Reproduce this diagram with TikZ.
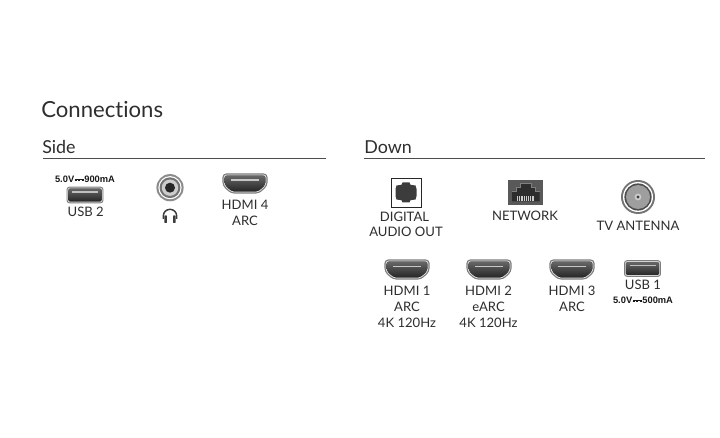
\documentclass[tikz,border=0pt]{standalone}
\usepackage{fontspec}
\setmainfont{Lato}[Ligatures=NoCommon]
\newfontfamily\smallfont{Liberation Sans}
\definecolor{ink}{HTML}{2E2E2E}
\definecolor{port}{HTML}{3C3C3C}
\definecolor{rimc}{HTML}{7E7E7E}
% the direct-current sign: a solid bar over a dashed bar
\newcommand{\dcsign}{\kern0.3pt\raisebox{1.1pt}{\vbox{\hrule width 7pt height 0.45pt\kern0.6pt\hbox{\vrule width 1.7pt height 0.45pt\kern0.95pt\vrule width 1.7pt height 0.45pt\kern0.95pt\vrule width 1.7pt height 0.45pt}}}\kern0.3pt}
\tikzset{
  x=0.75pt,y=-0.75pt,
  lab/.style={text=ink,font=\fontsize{9.8}{10}\selectfont,inner sep=0pt,anchor=center},
  big/.style={text=ink,font=\fontsize{16.6}{16}\selectfont,inner sep=0pt,anchor=west},
  head/.style={text=ink,font=\fontsize{13.4}{13}\selectfont,inner sep=0pt,anchor=west},
  tiny/.style={text=black!90,font=\smallfont\bfseries\fontsize{7}{6}\selectfont,inner sep=0pt,anchor=center},
  rule/.style={draw=black!70,line width=0.65pt},
  pics/hdmi/.style={code={
    \draw[draw=rimc,fill=white!88!black,line width=0.8pt,rounded corners=2.4pt] (-22,-9.5) -- (22,-9.5) -- (22,2) -- (14,9.5) -- (-14,9.5) -- (-22,2) -- cycle;
    \fill[top color=black!60,bottom color=black!85,rounded corners=1.5pt] (-20.3,-7.8) -- (20.3,-7.8) -- (20.3,1.3) -- (13.2,7.8) -- (-13.2,7.8) -- (-20.3,1.3) -- cycle;
    \fill[white!78!black] (-14,-4) rectangle (14,-2.6);
  }},
  pics/usb/.style={code={
    \draw[draw=rimc,fill=white!88!black,line width=0.7pt,rounded corners=1.8pt] (-18,-7.8) rectangle (18,7.8);
    \fill[top color=black!60,bottom color=black!85,rounded corners=1pt] (-16.6,-6.4) rectangle (16.6,6.4);
    \fill[white!75!black] (-13,-3.8) rectangle (13,-2.4);
  }}
}
\begin{document}
\begin{tikzpicture}
\useasboundingbox (0,0) rectangle (720,438);
\fill[white] (0,0) rectangle (720,438);

\node[big] (title) at (41,110) {Connections};
\node[head] (side) at (42,147) {Side};
\node[head] (down) at (364,147) {Down};
\draw[rule] (43,158) -- (326,158);
\draw[rule] (363.5,158) -- (705,158);

% Side
\node[tiny] (v2) at (85,179) {5.0V\dcsign 900mA};
\pic at (85,195) {usb};
\node[lab] (usb2) at (85.7,212) {USB 2};
% audio jack
\fill[white!55!black] (170,187.7) circle (13.6);
\fill[white] (170,187.7) circle (11.6);
\fill[white!45!black] (170,187.7) circle (10.4);
\fill[white!80!black] (170,187.7) circle (8.2);
\fill[black!85] (170,187.7) circle (5);
% headphones
\draw[port,line width=1.1pt] (163.3,219) -- (163.3,216) arc[start angle=180,end angle=360,x radius=6.7,y radius=6.7] -- (176.7,219);
\fill[port,rounded corners=0.4pt] (164.4,215.5) rectangle (166.9,223);
\fill[port,rounded corners=0.4pt] (173.1,215.5) rectangle (175.6,223);
\pic at (245,183.5) {hdmi};
\node[lab] (h4a) at (245,205) {HDMI 4};
\node[lab] (h4b) at (245,221) {ARC};

% Down row 1
\draw[black!85,fill=white,line width=0.7pt] (391,178) rectangle (421,207);
\fill[port] (402.5,182.5) -- (409.5,182.5) -- (410.5,184.8) -- (415.5,185.5) -- (416.5,189) -- (416.5,196) -- (415.5,199.5) -- (410.5,200.2) -- (409.5,202.5) -- (402.5,202.5) -- (401.5,200.2) -- (396.5,199.5) -- (395.5,196) -- (395.5,189) -- (396.5,185.5) -- (401.5,184.8) -- cycle;
\node[lab] (d1) at (404.5,216.7) {DIGITAL};
\node[lab] (d2) at (406,232) {AUDIO OUT};

\fill[black!65] (508,180) rectangle (543,205);
\fill[port!75!black] (512,201.5) -- (512,191) -- (516,191) -- (516,187) -- (520,187) -- (520,183.5) -- (531,183.5) -- (531,187) -- (535,187) -- (535,191) -- (539.5,191) -- (539.5,201.5) -- cycle;
\draw[white!50!black,line width=0.4pt] (512,191) -- (516,191) -- (516,187) -- (520,187) -- (520,183.5) -- (531,183.5) -- (531,187) -- (535,187) -- (535,191) -- (539.5,191);
\foreach \i in {0,...,7}{\fill[white!80!black] (517+\i*2.2,196.5) rectangle (518.2+\i*2.2,201);}
\node[lab] (net) at (525,216) {NETWORK};

\fill[white!45!black] (638,197) circle (17);
\fill[white] (638,197) circle (15);
\fill[black!70] (638,197) circle (13.6);
\fill[white!62!black] (638,197) circle (12);
\fill[white!80!black] (638,197) circle (3.4);
\fill[black!75] (638,197) circle (1.7);
\node[lab] (tv) at (638,226) {TV ANTENNA};

% Down row 2
\pic at (407,269.5) {hdmi};
\pic at (489,269.5) {hdmi};
\pic at (572,269.5) {hdmi};
\pic at (642.5,268.5) {usb};
\node[lab] (h1a) at (407,290.7) {HDMI 1};
\node[lab] (h1b) at (407,306.7) {ARC};
\node[lab] (h1c) at (407,322.7) {4K 120Hz};
\node[lab] (h2a) at (488.5,290.7) {HDMI 2};
\node[lab] (h2b) at (488.5,306.7) {eARC};
\node[lab] (h2c) at (488.5,322.7) {4K 120Hz};
\node[lab] (h3a) at (572,290.7) {HDMI 3};
\node[lab] (h3b) at (572,306.7) {ARC};
\node[lab] (usb1) at (643,284.7) {USB 1};
\node[tiny] (v1) at (643,300) {5.0V\dcsign 500mA};
\end{tikzpicture}
\end{document}
